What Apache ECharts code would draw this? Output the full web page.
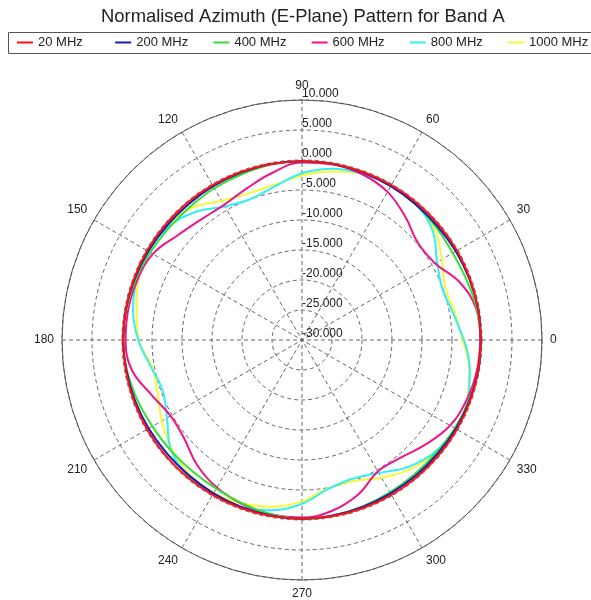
<!DOCTYPE html>
<html><head><meta charset="utf-8">
<script src="https://cdn.jsdelivr.net/npm/echarts@6/dist/echarts.min.js"></script>
<style>html,body{margin:0;padding:0;background:#fff}#c{width:591px;height:600px}</style>
</head><body><div id="c"></div>
<script>
// Angles (degrees) at which each pattern was read
const angles = [0,10,20,30,40,50,60,70,80,90,100,110,120,130,140,150,160,170,180,
                190,200,210,220,230,240,250,260,270,280,290,300,310,320,330,340,350,360];
const seriesNames = ['20 MHz','200 MHz','400 MHz','600 MHz','800 MHz','1000 MHz'];
const seriesColors = ['#ff1010','#1a1ab8','#33e033','#f0148c','#33eef5','#f8f83a'];
// Normalised gain (dB) per frequency
const mhz20   = [-0.2,-0.2,-0.2,-0.2,-0.2,-0.2,-0.2,-0.2,-0.2,-0.2,-0.2,-0.2,-0.2,-0.2,-0.2,-0.2,-0.2,-0.2,-0.2,
                 -0.2,-0.2,-0.2,-0.2,-0.2,-0.2,-0.2,-0.2,-0.2,-0.2,-0.2,-0.2,-0.2,-0.2,-0.2,-0.2,-0.2,-0.2];
const mhz200  = [-0.2,-0.2,-0.3,-0.4,-0.5,-0.5,-0.4,-0.3,-0.2,-0.2,-0.2,-0.3,-0.4,-0.5,-0.5,-0.4,-0.3,-0.2,-0.2,
                 -0.3,-0.4,-0.5,-0.6,-0.6,-0.5,-0.4,-0.3,-0.2,-0.3,-0.4,-0.5,-0.5,-0.5,-0.4,-0.3,-0.2,-0.2];
const mhz400  = [-0.2,-0.4,-0.8,-1.0,-0.8,-0.5,-0.3,-0.2,-0.2,-0.2,-0.3,-0.6,-0.8,-1.0,-1.0,-0.8,-0.5,-0.3,-0.2,
                 -0.4,-0.8,-1.2,-1.4,-1.5,-1.4,-1.0,-0.5,-0.2,-0.3,-0.5,-0.7,-0.8,-0.8,-0.6,-0.4,-0.2,-0.2];
const mhz600  = [-0.3,-0.5,-2.0,-4.4,-4.8,-3.2,-1.5,-0.6,-0.3,-0.4,-1.7,-3.1,-4.0,-3.8,-2.9,-1.3,-0.8,-0.6,-0.6,
                 -1.2,-3.3,-4.7,-4.4,-2.8,-1.6,-0.9,-0.5,-0.4,-1.1,-2.6,-4.7,-4.4,-3.0,-1.5,-0.8,-0.4,-0.3];
const mhz800  = [-3.0,-4.4,-5.1,-4.0,-1.6,-0.5,-0.4,-0.5,-1.0,-2.2,-4.0,-5.0,-4.3,-2.2,-0.8,-0.5,-0.7,-1.4,-2.7,
                 -4.4,-5.3,-4.0,-1.5,-0.5,-0.4,-0.4,-1.2,-2.7,-4.8,-5.4,-4.4,-2.4,-1.0,-0.5,-0.6,-1.6,-3.0];
const mhz1000 = [-3.3,-4.1,-4.6,-3.1,-1.2,-0.5,-0.4,-0.5,-1.5,-2.6,-3.7,-4.0,-3.2,-1.3,-0.5,-0.4,-0.9,-2.0,-2.8,
                 -4.6,-4.4,-3.0,-1.7,-0.8,-0.6,-1.0,-1.8,-3.1,-4.9,-5.0,-3.5,-1.9,-0.8,-0.5,-0.7,-1.7,-3.3];
const allValues = [mhz20, mhz200, mhz400, mhz600, mhz800, mhz1000];
// Axis scale
const radiusMin = -30, radiusMax = 10, radiusStep = 5;
const angleStep = 30;

const FONT = 'Liberation Sans, Arial, sans-serif';
const chart = echarts.init(document.getElementById('c'), null, {renderer: 'canvas'});

const series = seriesNames.map((name, k) => ({
  name: name,
  type: 'line',
  coordinateSystem: 'polar',
  polarIndex: 0,
  smooth: 0.4,
  symbol: 'none',
  showSymbol: false,
  z: 20 - k,
  lineStyle: {color: seriesColors[k], width: 2},
  itemStyle: {color: seriesColors[k]},
  data: angles.map((a, i) => [allValues[k][i], a])
}));

// one legend component per series, laid out on a fixed pitch
const LEGEND_X0 = 17, LEGEND_PITCH = 98.2, LEGEND_TOP = 36;
const legends = seriesNames.map((name, k) => ({
  data: [name],
  left: LEGEND_X0 + k * LEGEND_PITCH, top: LEGEND_TOP,
  padding: 0,
  icon: 'rect', itemWidth: 16, itemHeight: 2,
  textStyle: {fontFamily: FONT, fontSize: 13, color: '#222'}
}));

chart.setOption({
  animation: false,
  backgroundColor: '#fff',
  textStyle: {fontFamily: FONT},
  title: {
    text: 'Normalised Azimuth (E-Plane) Pattern for Band A',
    left: 96, top: 3,
    textStyle: {fontFamily: FONT, fontSize: 18.4, fontWeight: 'normal', color: '#222'}
  },
  graphic: [{
    type: 'rect', left: 6, top: 30, silent: true, z: -1,
    shape: {x: 0.5, y: 0.5, width: 600, height: 21},
    style: {fill: null, stroke: '#555', lineWidth: 1}
  }],
  legend: legends,
  polar: [
    {center: [302, 340], radius: 240},
    {center: [302, 340], radius: 240}
  ],
  angleAxis: [
    {
      polarIndex: 0, type: 'value', min: 0, max: 360, interval: angleStep,
      startAngle: 0, clockwise: false,
      axisLine: {show: true, lineStyle: {color: '#555', width: 1}},
      axisTick: {show: false},
      axisLabel: {show: true, margin: 8, fontFamily: FONT, fontSize: 12, color: '#222'},
      splitLine: {show: true, lineStyle: {color: '#666', type: [4, 3], width: 1}}
    },
    {
      polarIndex: 1, type: 'value', min: 0, max: 360, interval: angleStep,
      startAngle: 90, clockwise: false, show: true,
      axisLine: {show: false}, axisTick: {show: false}, axisLabel: {show: false}, splitLine: {show: false}
    }
  ],
  radiusAxis: [
    {
      polarIndex: 0, type: 'value', min: radiusMin, max: radiusMax, interval: radiusStep,
      axisLine: {show: false}, axisTick: {show: false}, axisLabel: {show: false},
      splitLine: {show: true, lineStyle: {color: '#666', type: [4, 3], width: 1}}
    },
    {
      polarIndex: 1, type: 'value', min: radiusMin, max: radiusMax, interval: radiusStep,
      axisLine: {show: false}, axisTick: {show: false}, splitLine: {show: false},
      axisLabel: {
        show: true, margin: 0, align: 'left', verticalAlign: 'bottom',
        fontFamily: FONT, fontSize: 12, color: '#222',
        formatter: v => v.toFixed(3)
      }
    }
  ],
  series: series
});
</script>
</body></html>
